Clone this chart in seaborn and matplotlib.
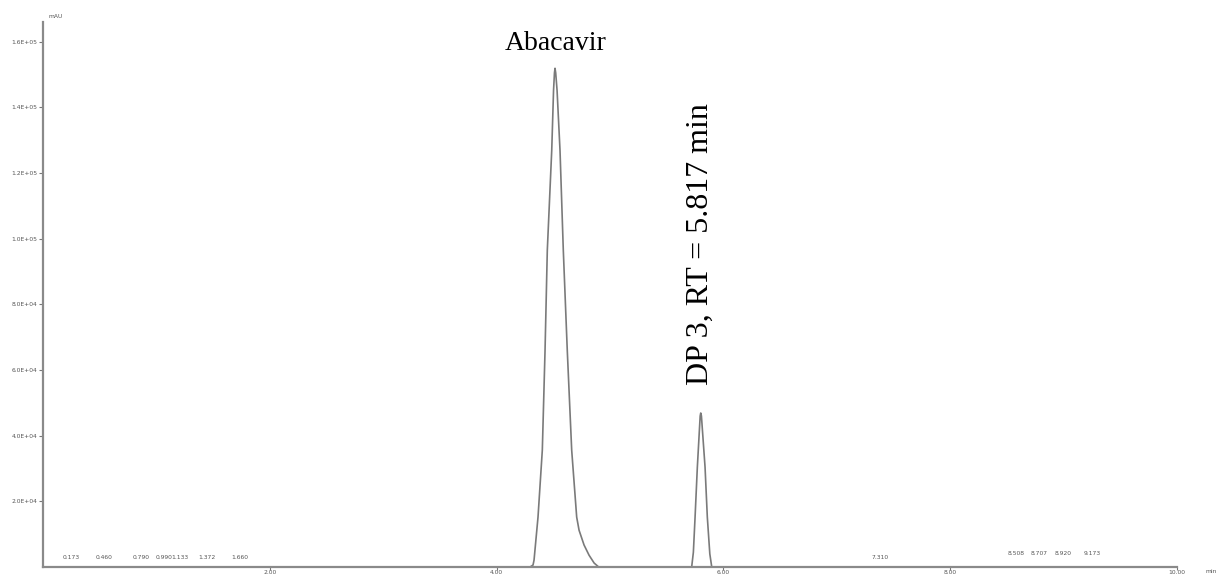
import matplotlib.pyplot as plt
import seaborn as sns
import pandas as pd

sns.set_theme(style="white")
plt.rcParams['font.family'] = ['DejaVu Sans']

# chromatogram trace (time in min, signal in mAU)
time_min = [0.05, 1.00, 2.00, 3.00, 4.00, 4.295,
            4.321, 4.330, 4.365, 4.403, 4.427, 4.447, 4.486, 4.502, 4.510,
            4.515, 4.521,
            4.533, 4.559, 4.588, 4.623, 4.662, 4.706, 4.727, 4.771, 4.815,
            4.860, 4.900,
            5.00, 5.50, 5.720,
            5.735, 5.750, 5.770, 5.795, 5.800, 5.806, 5.838, 5.858, 5.880, 5.897,
            6.50, 7.50, 8.50, 9.50, 10.00]
signal = [0, 0, 0, 0, 0, 0,
          600, 2100, 15200, 35600, 66000, 96500, 126900, 145200, 150500,
          151900, 150500,
          145200, 126900, 96500, 66000, 35600, 15200, 11200, 6700, 3600,
          1200, 0,
          0, 0, 0,
          4500, 15200, 30400, 46000, 46900, 46000, 30400, 15200, 4000, 0,
          0, 0, 0, 0, 0]

y_ticks = [2.0e4, 4.0e4, 6.0e4, 8.0e4, 1.0e5, 1.2e5, 1.4e5, 1.6e5]
y_tick_labels = ['2.0E+04', '4.0E+04', '6.0E+04', '8.0E+04',
                 '1.0E+05', '1.2E+05', '1.4E+05', '1.6E+05']
x_ticks = [2, 4, 6, 8, 10]
x_tick_labels = ['2.00', '4.00', '6.00', '8.00', '10.00']

# small retention time marks along the baseline
rt_marks = [0.173, 0.460, 0.790, 0.990, 1.133, 1.372, 1.660,
            7.310, 8.508, 8.707, 8.920, 9.173]

df = pd.DataFrame({'time': time_min, 'signal': signal})

fig = plt.figure(figsize=(12.22, 5.74), dpi=100)
ax = fig.add_axes([0.0352, 0.0122, 0.928, 0.9495])

sns.lineplot(data=df, x='time', y='signal', ax=ax, color='#7a7a7a',
             linewidth=1.2, estimator=None)

ax.set_xlim(0, 10)
ax.set_ylim(0, 1.66e5)
ax.set_yticks(y_ticks)
ax.set_yticklabels(y_tick_labels, fontsize=4.3, color='#555555')
ax.set_xticks(x_ticks)
ax.set_xticklabels(x_tick_labels, fontsize=4.3, color='#555555')
ax.tick_params(axis='y', direction='out', length=3, width=0.8, pad=1,
               color='#777777', left=True)
ax.tick_params(axis='x', direction='out', length=2, width=0.8, pad=0.5,
               color='#777777', bottom=True)
ax.set_xlabel('')
ax.set_ylabel('')

for side in ['top', 'right']:
    ax.spines[side].set_visible(False)
for side in ['left', 'bottom']:
    ax.spines[side].set_color('#8a8a8a')
    ax.spines[side].set_linewidth(1.6)

for rt in rt_marks:
    ax.text(rt, 2000 if rt < 8.4 else 3200, f"{rt:.3f}", fontsize=4.3,
            color='#555555', ha='left', va='bottom')

ax.text(0.005, 1.005, 'mAU', transform=ax.transAxes, fontsize=4.3,
        color='#555555', ha='left', va='bottom')
ax.text(1.03, -0.004, 'min', transform=ax.transAxes, fontsize=4.3,
        color='#555555', ha='center', va='top', clip_on=False)

ax.text(4.52, 1.555e5, 'Abacavir', family='Liberation Serif', fontsize=20,
        color='black', ha='center', va='bottom')
ax.text(5.80, 5.55e4, 'DP 3, RT = 5.817 min', family='Liberation Serif',
        fontsize=23, color='black', rotation=90, ha='center', va='bottom')

plt.savefig('out.png', dpi=100)
